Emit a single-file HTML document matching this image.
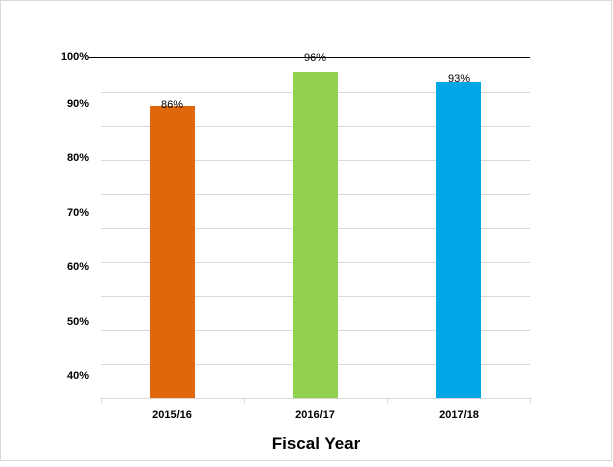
<!DOCTYPE html>
<html><head><style>body{margin:0;background:#fff}</style></head><body>
<svg width="613" height="462" xmlns="http://www.w3.org/2000/svg" font-family="Liberation Sans, sans-serif">
<rect x="0.5" y="0.5" width="611" height="460" fill="#fff" stroke="#d9d9d9"/>
<g stroke="#d9d9d9" stroke-width="1">
<line x1="101" y1="92.5" x2="530" y2="92.5"/><line x1="101" y1="126.5" x2="530" y2="126.5"/>
<line x1="101" y1="160.5" x2="530" y2="160.5"/><line x1="101" y1="194.5" x2="530" y2="194.5"/>
<line x1="101" y1="228.5" x2="530" y2="228.5"/><line x1="101" y1="262.5" x2="530" y2="262.5"/>
<line x1="101" y1="296.5" x2="530" y2="296.5"/><line x1="101" y1="330.5" x2="530" y2="330.5"/>
<line x1="101" y1="364.5" x2="530" y2="364.5"/><line x1="101" y1="398.5" x2="530" y2="398.5"/>
<line x1="101.5" y1="398" x2="101.5" y2="403"/><line x1="244.5" y1="398" x2="244.5" y2="403"/>
<line x1="387.5" y1="398" x2="387.5" y2="403"/><line x1="530.5" y1="398" x2="530.5" y2="403"/>
</g>
<rect x="150" y="106" width="45" height="292" fill="#e0680b"/>
<rect x="293" y="72" width="45" height="326" fill="#92d050"/>
<rect x="436" y="82" width="45" height="316" fill="#00a6e6"/>
<line x1="88" y1="57.5" x2="530" y2="57.5" stroke="#000" stroke-width="1"/>
<g font-size="11" font-weight="bold" fill="#000" text-anchor="end">
<text x="89" y="60">100%</text><text x="89" y="107">90%</text><text x="89" y="161">80%</text>
<text x="89" y="216">70%</text><text x="89" y="270">60%</text><text x="89" y="325">50%</text><text x="89" y="379">40%</text>
</g>
<g font-size="11" fill="#000" text-anchor="middle">
<text x="172" y="108">86%</text><text x="315" y="61">96%</text><text x="459" y="82">93%</text>
</g>
<g font-size="11" font-weight="bold" fill="#000" text-anchor="middle">
<text x="172" y="418">2015/16</text><text x="315" y="418">2016/17</text><text x="459" y="418">2017/18</text>
</g>
<text x="316" y="449" font-size="17" font-weight="bold" text-anchor="middle">Fiscal Year</text>
</svg>
</body></html>
